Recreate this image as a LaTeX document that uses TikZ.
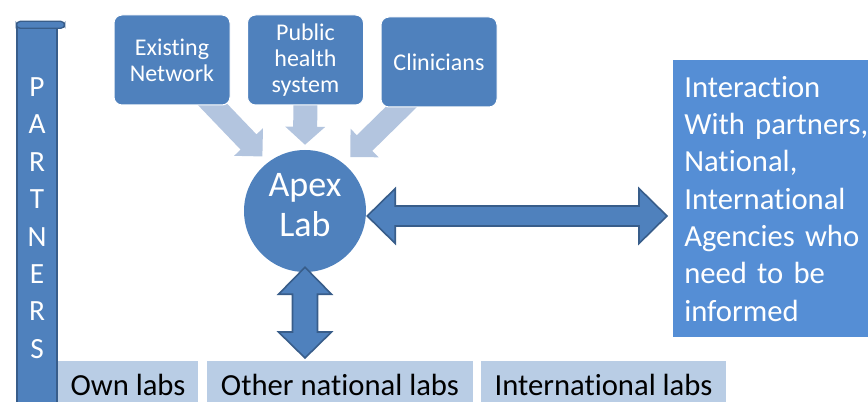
\documentclass[tikz,border=0pt]{standalone}
\usepackage{fontspec}
\setmainfont{Carlito}[Ligatures={NoCommon,NoContextual}]
\usetikzlibrary{calc,backgrounds}
\usepackage{xcolor}
\definecolor{color4f81bd}{HTML}{4F81BD}
\definecolor{color385d8a}{HTML}{385D8A}
\definecolor{color558ed5}{HTML}{558ED5}
\definecolor{colorb9cde5}{HTML}{B9CDE5}
\definecolor{colorb3c5df}{HTML}{B3C5DF}

% block arrow: #1 style, #2 tail, #3 tip, #4 half shaft, #5 half head, #6 head length
\newcommand{\blockarrow}[6]{%
  \coordinate (ba_base) at ($(#3)!#6!(#2)$);
  \fill[#1] ($(#2)!#4!90:(#3)$) -- ($(ba_base)!#4!90:(#3)$) -- ($(ba_base)!#5!90:(#3)$) -- (#3)
    -- ($(ba_base)!#5!-90:(#3)$) -- ($(ba_base)!#4!-90:(#3)$) -- ($(#2)!#4!-90:(#3)$) -- cycle;}

\begin{document}
\begin{tikzpicture}
    [x=0.75pt, y=-0.75pt,  % one unit = one pixel of the sketch
     feedbox/.style={rectangle, fill=color4f81bd, draw=white, line width=0.75pt, rounded corners=6pt, minimum width=87pt, minimum height=67.5pt, text=white, align=center, font=\fontsize{18}{19.5}\selectfont},
     labbox/.style={rectangle, fill=colorb9cde5, anchor=north, minimum height=36pt, inner sep=0pt, font=\fontsize{23}{28}\selectfont},
     feedarrow/.style={fill=colorb3c5df},
     linkarrow/.style={fill=color4f81bd, draw=color385d8a, line width=1.2pt, line join=miter},
    ]
\useasboundingbox (0,0) rectangle (868,402);

\node[rectangle, fill=color4f81bd, draw=color385d8a, line width=1pt, minimum width=30pt, minimum height=288pt, inner sep=0pt, text=white, align=center, font=\fontsize{22}{28.05}\selectfont] (node_bar) at (37,218) {P\\A\\R\\T\\N\\E\\R\\S};
\filldraw[fill=color4f81bd, draw=color385d8a, line width=1pt, rounded corners=3pt] ([yshift=3pt]node_bar.north west) rectangle ([xshift=5.25pt,yshift=-2.25pt]node_bar.north east);

\node[labbox, minimum width=105pt] (node_own) at (128,361) {Own labs};
\node[labbox, minimum width=199.5pt] (node_other) at (340,361) {Other national labs};
\node[labbox, minimum width=183.75pt] (node_intl) at (603.5,361) {International labs};

\node[feedbox] (node_network) at (172,60) {Existing\\Network};
\node[feedbox] (node_health) at (305.5,60) {Public\\health\\system};
\node[feedbox] (node_clinic) at (439,62) {Clinicians};

\node[circle, fill=color4f81bd, minimum size=91.5pt, inner sep=0pt, text depth=9pt, text=white, align=center, font=\fontsize{27}{30}\selectfont] (node_apex) at (305,211) {Apex\\Lab};

\coordinate (feed_a) at ([xshift=24pt,yshift=7.5pt]node_network.south);
\coordinate (tip_a) at ($(node_apex.center)!1.13!(node_apex.128)$);
\coordinate (feed_b) at ([yshift=7.5pt]node_health.south);
\coordinate (tip_b) at ([yshift=3.75pt]node_apex.north);
\coordinate (feed_c) at ([xshift=-19.5pt,yshift=9pt]node_clinic.south);
\coordinate (tip_c) at ($(node_apex.center)!1.15!(node_apex.50)$);
\begin{scope}[on background layer]
\blockarrow{feedarrow}{feed_a}{tip_a}{8.25pt}{15pt}{15pt}
\blockarrow{feedarrow}{feed_b}{tip_b}{9pt}{15pt}{13.5pt}
\blockarrow{feedarrow}{feed_c}{tip_c}{8.25pt}{15pt}{15pt}
\end{scope}

\node[rectangle, fill=color558ed5, anchor=north west, text width=150pt, inner xsep=8.25pt, minimum height=207.75pt, text=white, align=left, font=\fontsize{23}{28}\selectfont] (node_info) at (673,60) {Interaction\\With partners,\\National,\\International\\Agencies who\\need to be\\informed};

\coordinate (link_l) at ([xshift=0.75pt,yshift=-3.75pt]node_apex.east);
\coordinate (link_r) at ($(node_info.west |- link_l)+(-6,0)$);
\filldraw[linkarrow] (link_l) -- ++(28,-27.5) -- ++(0,17.5) -- ($(link_r)+(-28,-10)$) -- ++(0,-17.5) -- (link_r)
    -- ++(-28,27.5) -- ++(0,-17.5) -- ($(link_l)+(28,10)$) -- ++(0,17.5) -- cycle;

\coordinate (drop_t) at ([yshift=3.75pt]node_apex.south);
\coordinate (drop_b) at ($(drop_t |- node_other.north)+(0,-3)$);
\filldraw[linkarrow] (drop_t) -- ++(26.5,27) -- ++(-14,0) -- ($(drop_b)+(12.5,-26)$) -- ++(14,0) -- (drop_b)
    -- ++(-26.5,-26) -- ++(14,0) -- ($(drop_t)+(-12.5,27)$) -- ++(-14,0) -- cycle;

\end{tikzpicture}
\end{document}
